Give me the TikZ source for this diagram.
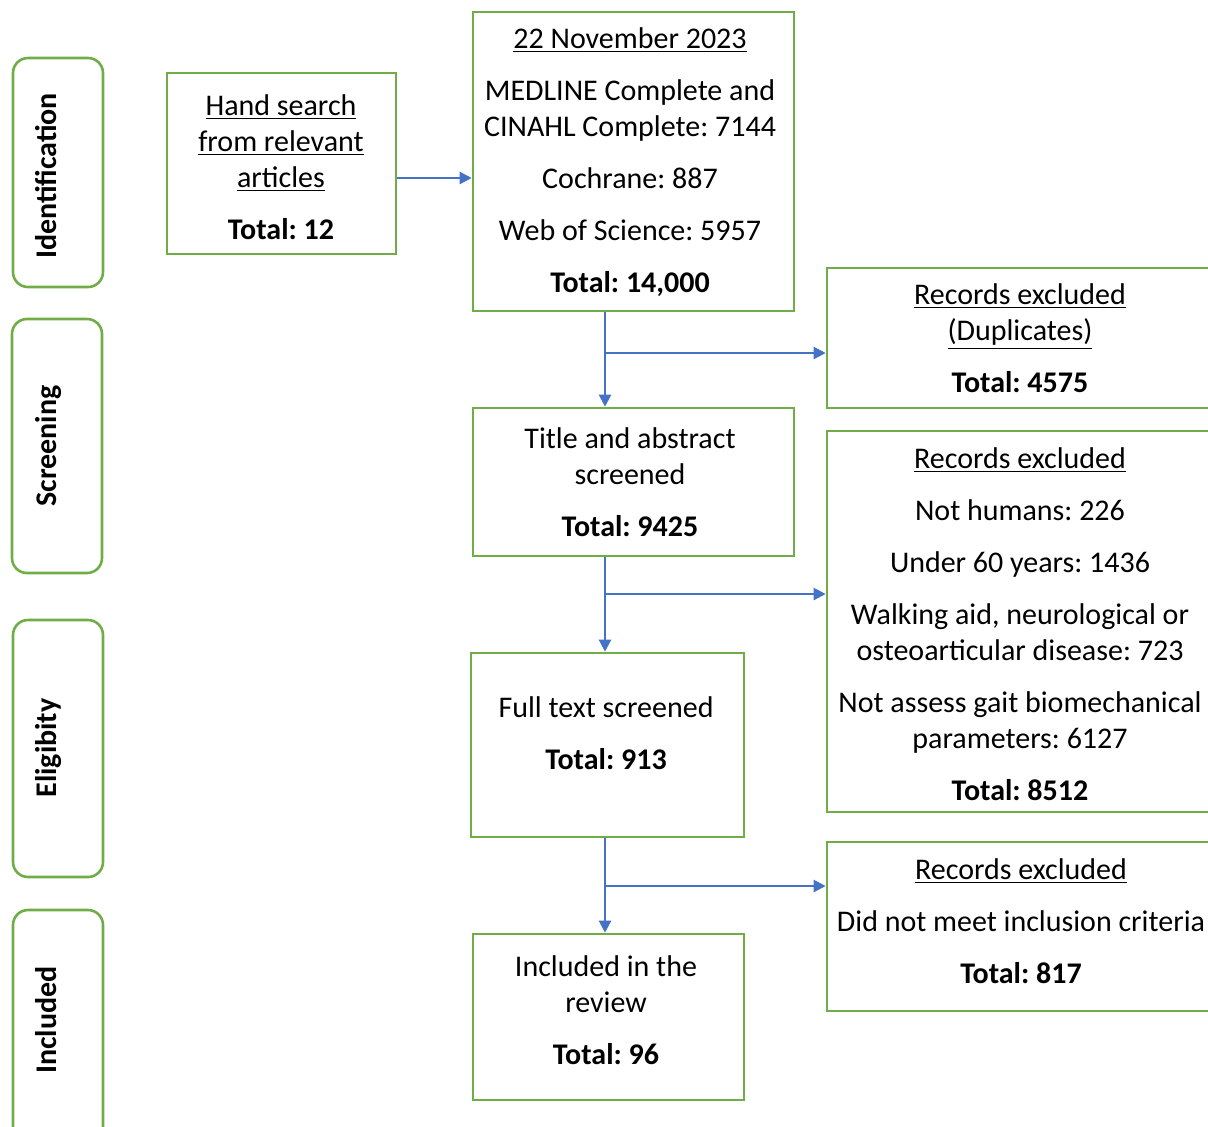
\documentclass[tikz,border=0pt]{standalone}
\usepackage{fontspec}
\setmainfont{Carlito}
\usetikzlibrary{arrows.meta,fit}
\definecolor{boxgreen}{RGB}{112,173,71}
\definecolor{arrblue}{RGB}{68,114,196}
\frenchspacing
\begin{document}
\begin{tikzpicture}[x=0.5pt,y=-0.5pt,
  box/.style={draw=boxgreen, line width=1.3pt, inner sep=0pt},
  phasebox/.style={box, rounded corners=7.5pt},
  txt/.style={align=center, font=\fontsize{15pt}{18pt}\selectfont, inner sep=0pt},
  phasetxt/.style={rotate=90, anchor=base, font=\fontsize{15pt}{18pt}\selectfont\bfseries, inner sep=0pt},
  arr/.style={draw=arrblue, line width=1.1pt, -{Triangle[length=6pt,width=6pt]}}
]
\useasboundingbox (0,0) rectangle (1208,1126);
\clip (0,0) rectangle (1208,1126);

% phase boxes
\node[phasebox, fit={(13,58) (103,287)}] (pid) {};
\node[phasebox, fit={(12,319) (102,573)}] (pscr) {};
\node[phasebox, fit={(13,620) (103,877)}] (peli) {};
\node[phasebox, fit={(13,910) (103,1150)}] (pinc) {};
\node[phasetxt] (pid-t) at (56,176) {Identification};
\node[phasetxt] (pscr-t) at (56,446) {Screening};
\node[phasetxt] (peli-t) at (56,748) {Eligibity};
\node[phasetxt] (pinc-t) at (56,1020) {Included};

% main boxes
\node[box, fit={(167,73) (396,254)}] (hand) {};
\node[box, fit={(473,12) (794,311)}] (src) {};
\node[box, fit={(827,268) (1215,408)}] (dup) {};
\node[box, fit={(473,408) (794,556)}] (tas) {};
\node[box, fit={(827,431) (1215,812)}] (ex2) {};
\node[box, fit={(471,653) (744,837)}] (ft) {};
\node[box, fit={(827,842) (1215,1011)}] (ex3) {};
\node[box, fit={(473,934) (744,1100)}] (inc) {};

% texts
\node[txt] (hand-t) at (281,167) {\underline{Hand search}\\ \underline{from relevant}\\ \underline{articles}\\[8pt] \textbf{Total: 12}};
\node[txt] (src-t) at (630,162) {\underline{22 November 2023}\\[8pt] MEDLINE Complete and\\ CINAHL Complete: 7144\\[8pt] Cochrane: 887\\[8pt] Web of Science: 5957\\[8pt] \textbf{Total: 14,000}};
\node[txt] (dup-t) at (1020,338.5) {\underline{Records excluded}\\ \underline{(Duplicates)}\\[8pt] \textbf{Total: 4575}};
\node[txt] (tas-t) at (630,482) {Title and abstract\\ screened\\[8pt] \textbf{Total: 9425}};
\node[txt] (ex2-t) at (1020,624) {\underline{Records excluded}\\[8pt] Not humans: 226\\[8pt] Under 60 years: 1436\\[8pt] Walking aid, neurological or\\ osteoarticular disease: 723\\[8pt] Not assess gait biomechanical\\ parameters: 6127\\[8pt] \textbf{Total: 8512}};
\node[txt] (ft-t) at (606,733.5) {Full text screened\\[8pt] \textbf{Total: 913}};
\node[txt] (ex3-t) at (1021,921.5) {\underline{Records excluded}\\[8pt] Did not meet inclusion criteria\\[8pt] \textbf{Total: 817}};
\node[txt] (inc-t) at (606,1010) {Included in the\\ review\\[8pt] \textbf{Total: 96}};

% connectors
\coordinate (h0) at (400,178);
\coordinate (b1) at (605,353);
\coordinate (b2) at (605,594);
\coordinate (b3) at (605,886);
\draw[arr] (hand.east |- h0) -- (src.west |- h0);
\draw[arr] (src.south -| b1) -- (tas.north -| b1);
\draw[arr] (b1) -- (dup.west |- b1);
\draw[arr] (tas.south -| b2) -- (ft.north -| b2);
\draw[arr] (b2) -- (ex2.west |- b2);
\draw[arr] (ft.south -| b3) -- (inc.north -| b3);
\draw[arr] (b3) -- (ex3.west |- b3);
\end{tikzpicture}
\end{document}
